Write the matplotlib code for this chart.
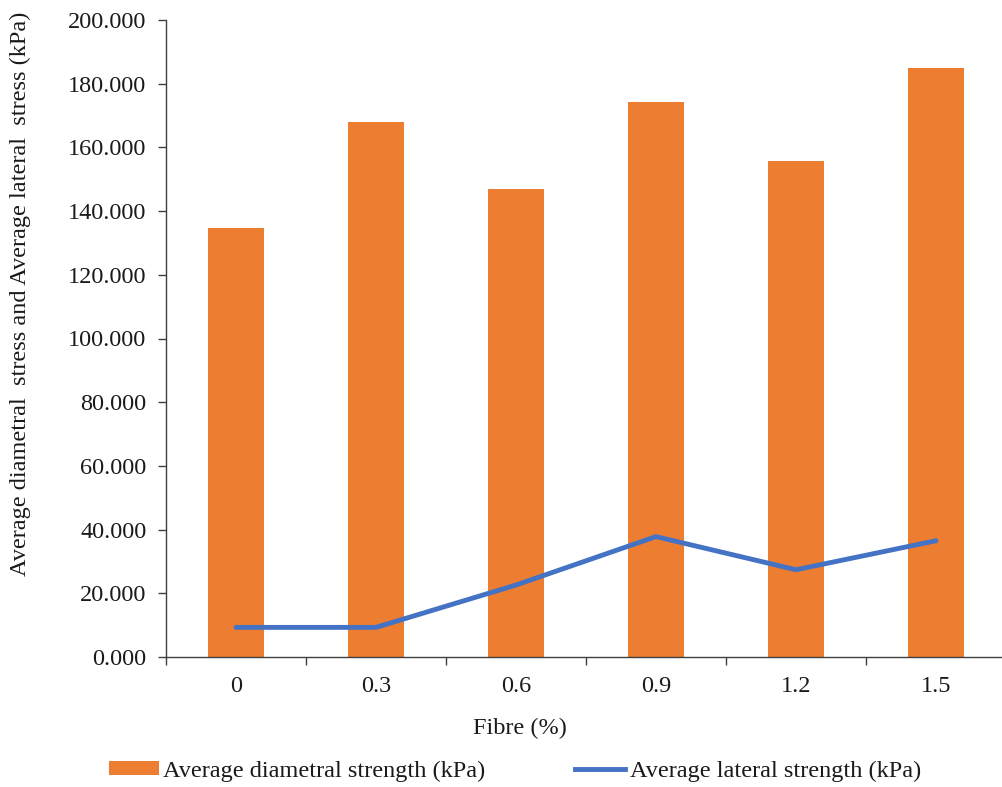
import matplotlib
matplotlib.use("Agg")
import matplotlib.pyplot as plt
from matplotlib.patches import Patch
from matplotlib.lines import Line2D
from matplotlib.ticker import FuncFormatter

fibre_labels = ["0", "0.3", "0.6", "0.9", "1.2", "1.5"]
diametral_strength = [134.8, 168.0, 146.9, 174.3, 155.7, 184.9]
lateral_strength = [9.3, 9.3, 22.6, 37.8, 27.4, 36.5]

plt.rcParams["font.family"] = ["Liberation Serif", "DejaVu Serif"]

BAR_COLOR = "#ED7D31"
LINE_COLOR = "#4472C4"
AXIS_COLOR = "#404040"
TEXT_COLOR = "#1a1a1a"
FS = 17.5
LW = 3.5

fig = plt.figure(figsize=(10.03, 7.87), dpi=100)
ax = fig.add_axes([166 / 1003, 1 - 657 / 787, 840 / 1003, 637 / 787])

x = list(range(len(fibre_labels)))
ax.bar(x, diametral_strength, width=0.4, color=BAR_COLOR, zorder=2)
ax.plot(x, lateral_strength, color=LINE_COLOR, linewidth=LW,
        solid_capstyle="round", solid_joinstyle="round", zorder=3)

ax.set_xlim(-0.5, len(x) - 0.5)
ax.set_ylim(0, 200)
ax.set_yticks(range(0, 201, 20))
ax.yaxis.set_major_formatter(FuncFormatter(lambda v, p: f"{v:.3f}"))

# category boundaries carry the tick marks, category centres carry the labels
ax.set_xticks([i - 0.5 for i in range(len(x) + 1)])
ax.set_xticklabels([])
ax.set_xticks(x, minor=True)
ax.set_xticklabels(fibre_labels, minor=True)
ax.tick_params(axis="x", which="minor", length=0, pad=14, labelsize=FS,
               labelcolor=TEXT_COLOR)
ax.tick_params(axis="x", which="major", length=6, width=1.0, color=AXIS_COLOR)
ax.tick_params(axis="y", length=6, width=1.0, color=AXIS_COLOR, labelsize=FS,
               pad=8, labelcolor=TEXT_COLOR)

for side in ["top", "right"]:
    ax.spines[side].set_visible(False)
for side in ["left", "bottom"]:
    ax.spines[side].set_color(AXIS_COLOR)
    ax.spines[side].set_linewidth(1.0)

fig.text(520 / 1003, 1 - 728 / 787, "Fibre (%)", fontsize=FS,
         ha="center", va="center", color=TEXT_COLOR)
fig.text(20 / 1003, 1 - 294 / 787,
         "Average diametral  stress and Average lateral  stress (kPa)",
         fontsize=FS, rotation=90, ha="center", va="center", color=TEXT_COLOR)

handles = [
    Patch(facecolor=BAR_COLOR, edgecolor="none",
          label="Average diametral strength (kPa)"),
    Line2D([0], [0], color=LINE_COLOR, linewidth=LW,
           label="Average lateral strength (kPa)"),
]
leg = fig.legend(handles=handles, loc="center",
                 bbox_to_anchor=(515 / 1003, 1 - 771 / 787),
                 ncol=2, frameon=False, fontsize=FS, handlelength=2.05,
                 handletextpad=0.18, columnspacing=3.7, handleheight=0.5)
for t in leg.get_texts():
    t.set_color(TEXT_COLOR)

fig.savefig("out.png", dpi=100)
